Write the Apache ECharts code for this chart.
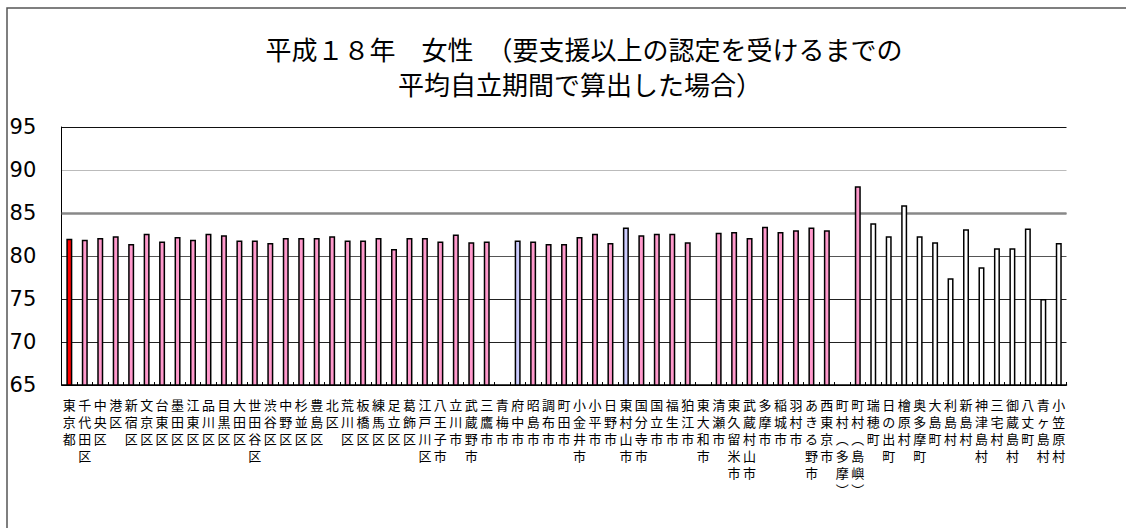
<!DOCTYPE html>
<html>
<head>
<meta charset="utf-8">
<script src="https://cdn.jsdelivr.net/npm/echarts@6/dist/echarts.min.js"></script>
<style>
html,body{margin:0;padding:0;background:#fff;}
#chart{width:1126px;height:528px;}
</style>
</head>
<body>
<div id="chart"></div>
<script>
const titleLine1 = '平成１８年　女性　（要支援以上の認定を受けるまでの';
const titleLine2 = '平均自立期間で算出した場合）';

const categories = ['東京都','千代田区','中央区','港区','新宿区','文京区','台東区','墨田区','江東区','品川区','目黒区','大田区','世田谷区','渋谷区','中野区','杉並区','豊島区','北区','荒川区','板橋区','練馬区','足立区','葛飾区','江戸川区',
  '八王子市','立川市','武蔵野市','三鷹市','青梅市','府中市','昭島市','調布市','町田市','小金井市','小平市','日野市','東村山市','国分寺市','国立市','福生市','狛江市','東大和市','清瀬市','東久留米市','武蔵村山市','多摩市','稲城市','羽村市','あきる野市','西東京市',
  '町村（多摩）','町村（島嶼）','瑞穂町','日の出町','檜原村','奥多摩町','大島町','利島村','新島村','神津島村','三宅村','御蔵島村','八丈町','青ヶ島村','小笠原村'];

const values = [82.0, 81.9, 82.1, 82.3, 81.4, 82.6, 81.7, 82.2, 81.9, 82.6, 82.4, 81.8, 81.8, 81.5, 82.1, 82.1, 82.1, 82.3, 81.8, 81.8, 82.1, 80.8, 82.1, 82.1,
  81.7, 82.5, 81.6, 81.7, null, 81.8, 81.7, 81.4, 81.4, 82.2, 82.6, 81.5, 83.3, 82.4, 82.6, 82.6, 81.6, null, 82.7, 82.8, 82.1, 83.4, 82.8, 83.0, 83.3, 83.0,
  null, 88.1, 83.8, 82.3, 85.9, 82.3, 81.6, 77.4, 83.1, 78.7, 80.9, 80.9, 83.2, 75.0, 81.5];

const yTicks = [65, 70, 75, 80, 85, 90, 95];

const totalCategory = ['東京都'];
const blueCategories = ['府中市','東村山市'];
const whiteCategories = ['瑞穂町','日の出町','檜原村','奥多摩町','大島町','利島村','新島村','神津島村','三宅村','御蔵島村','八丈町','青ヶ島村','小笠原村'];

function barColor(name){
  if (totalCategory.includes(name)) return '#FF0000';
  if (blueCategories.includes(name)) return '#CCCCFF';
  if (whiteCategories.includes(name)) return '#FFFFFF';
  return '#FF99CC';
}

const seriesData = categories.map((c, i) => ({
  value: values[i] === null ? '-' : values[i],
  itemStyle: { color: barColor(c) }
}));

const chart = echarts.init(document.getElementById('chart'), null, {renderer: 'svg'});
const cjk = '"Noto Sans CJK JP", "Noto Sans", sans-serif';
chart.setOption({
  animation: false,
  backgroundColor: '#fff',
  title: [
    { text: titleLine1, left: 584, top: 33, textAlign: 'center', padding: 0,
      textStyle: { fontFamily: cjk, fontSize: 26, fontWeight: 'normal', color: '#000', lineHeight: 30 } },
    { text: titleLine2, left: 580, top: 68, textAlign: 'center', padding: 0,
      textStyle: { fontFamily: cjk, fontSize: 26, fontWeight: 'normal', color: '#000', lineHeight: 30 } }
  ],
  graphic: [{
    type: 'rect', z: -1, silent: true,
    shape: { x: 7, y: 8, width: 1300, height: 700 },
    style: { fill: 'none', stroke: '#555', lineWidth: 1.5 }
  }],
  grid: { left: 61.6, right: 59.5, top: 127, bottom: 143, containLabel: false },
  xAxis: {
    type: 'category',
    data: categories,
    boundaryGap: true,
    axisLine: { show: true, lineStyle: { color: '#000', width: 1.5 } },
    axisTick: { show: true, inside: true, length: 3, alignWithLabel: false, lineStyle: { color: '#000' } },
    axisLabel: {
      interval: 0, margin: 11, color: '#000', fontFamily: cjk, fontSize: 13, lineHeight: 17,
      formatter: name => name.split('').map(ch => ch === '（' ? '︵' : (ch === '）' ? '︶' : ch)).join('\n')
    }
  },
  yAxis: {
    type: 'value',
    min: yTicks[0], max: yTicks[yTicks.length - 1], interval: 5,
    axisLine: { show: true, lineStyle: { color: '#000', width: 1 } },
    axisTick: { show: false },
    axisLabel: { color: '#000', fontFamily: '"DejaVu Sans", sans-serif', fontSize: 21, align: 'left', margin: 52 },
    splitLine: { show: true, lineStyle: { color: ['#000', '#222', '#222', '#555', '#888', '#bbb', '#111'], width: 1 } }
  },
  series: [{
    type: 'bar',
    data: seriesData,
    barWidth: 6,
    itemStyle: { borderColor: '#000', borderWidth: 1.5 },
    markLine: {
      silent: true, symbol: 'none', label: { show: false },
      lineStyle: { color: '#888', width: 2.5, type: 'solid' },
      data: [{ yAxis: 85 }],
      z: 1
    }
  }]
});
</script>
</body>
</html>
